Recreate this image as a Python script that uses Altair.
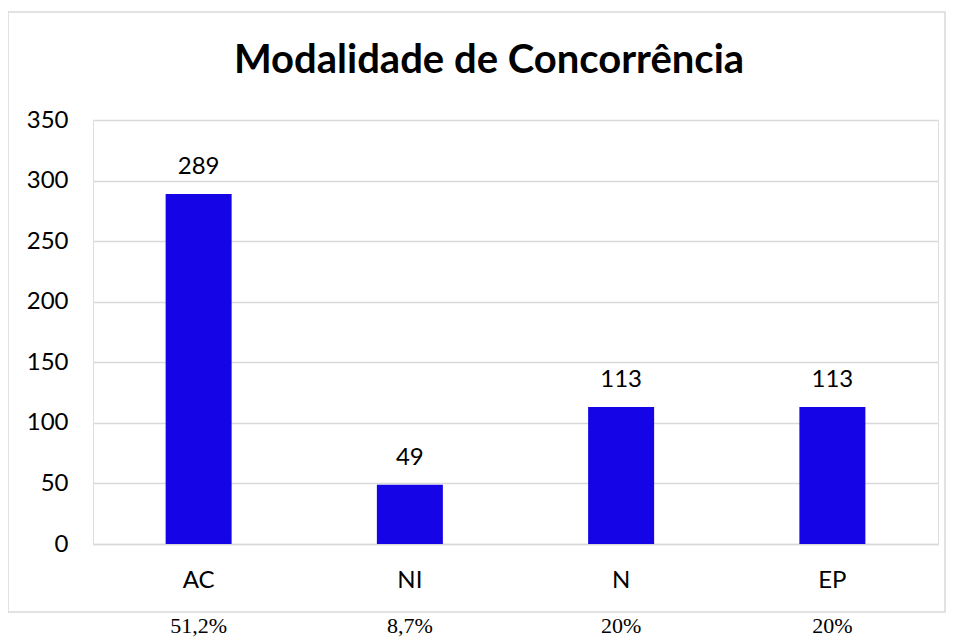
import altair as alt
import pandas as pd

categories = ["AC", "NI", "N", "EP"]
values = [289, 49, 113, 113]
percentages = ["51,2%", "8,7%", "20%", "20%"]
title_text = "Modalidade de Concorrência"

df = pd.DataFrame({"cat": categories, "val": values, "pct": percentages})

W, H = 845, 424
FONT = "Lato"
BAR = "#1505e6"

x_enc = alt.X("cat:N", sort=categories,
              scale=alt.Scale(paddingInner=0, paddingOuter=0),
              axis=alt.Axis(title=None, labelAngle=0, labelFontSize=24, labelFont=FONT,
                            labelColor="#000000", labelPadding=24, ticks=False,
                            domainColor="#d9d9d9", domainWidth=1.5))
y_enc = alt.Y("val:Q", scale=alt.Scale(domain=[0, 350], nice=False),
              axis=alt.Axis(title=None, values=list(range(0, 351, 50)), labelFontSize=24,
                            labelFont=FONT, labelColor="#000000", labelPadding=25,
                            ticks=False, domain=False, gridColor="#d9d9d9", gridWidth=1.3))

base = alt.Chart(df)

bars = base.mark_bar(size=66, color=BAR).encode(x=x_enc, y=y_enc)

labels = base.mark_text(fontSize=24, font=FONT, color="#000000", baseline="alphabetic", dy=-20).encode(
    x=alt.X("cat:N", sort=categories), y=alt.Y("val:Q"), text="val:Q")

pcts = base.mark_text(fontSize=22, font="Liberation Serif", color="#000000", baseline="alphabetic").encode(
    x=alt.X("cat:N", sort=categories), y=alt.value(513), text="pct:N")

title = alt.Chart(pd.DataFrame({"t": [title_text]})).mark_text(
    fontSize=40, font=FONT, fontWeight="bold", color="#000000", baseline="alphabetic", align="center"
).encode(x=alt.value(396), y=alt.value(-47), text="t:N")

border = alt.Chart(pd.DataFrame({"a": [0]})).mark_rect(
    fill=None, fillOpacity=0, stroke="#d9d9d9", strokeWidth=1.5
).encode(x=alt.value(-85), x2=alt.value(852), y=alt.value(-108), y2=alt.value(492))

chart = alt.layer(border, bars, labels, pcts, title).properties(
    width=W, height=H,
    autosize=alt.AutoSizeParams(type="none"),
    padding={"left": 85, "top": 112, "right": 8, "bottom": 96},
).configure_view(stroke=None).configure(background="white")

chart.save("out.html", embed_options={"renderer": "svg", "actions": False})
